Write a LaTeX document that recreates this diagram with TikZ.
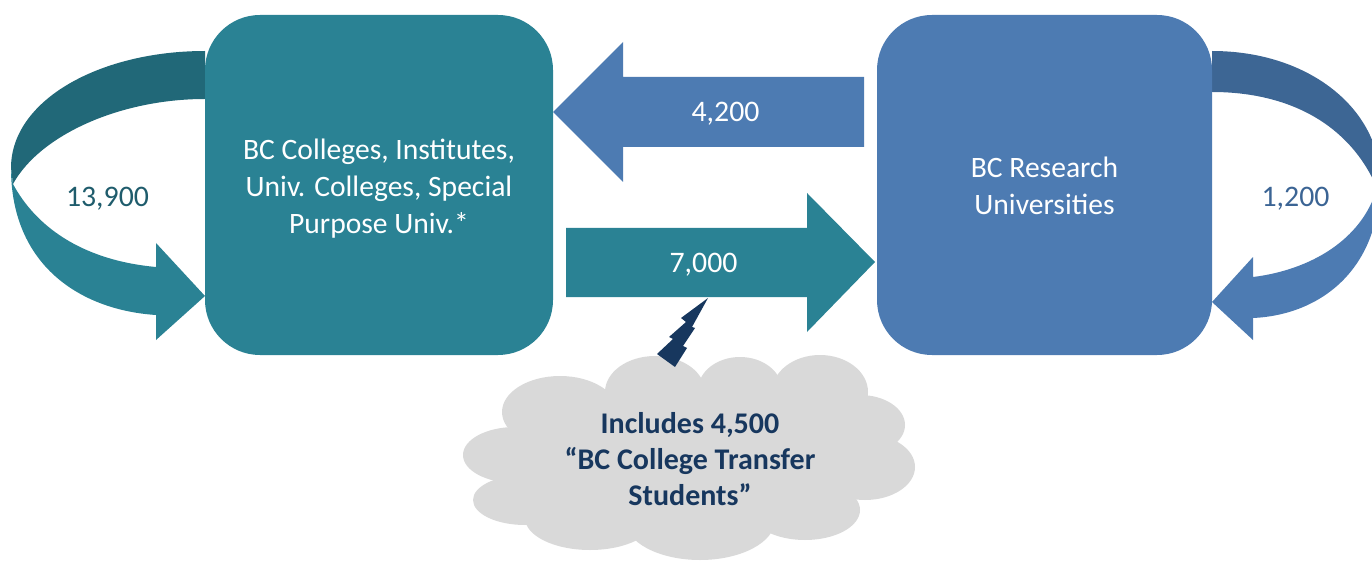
\documentclass[tikz,border=0pt]{standalone}
\usepackage{fontspec}
\setmainfont{Carlito}
\definecolor{cTeal}{HTML}{2A8294}
\definecolor{cTealDark}{HTML}{216878}
\definecolor{cTealText}{HTML}{1F5C6C}
\definecolor{cBlue}{HTML}{4D7BB2}
\definecolor{cBlueDark}{HTML}{3D6694}
\definecolor{cBlueText}{HTML}{3B6494}
\definecolor{cNavy}{HTML}{17375E}
\definecolor{cCloud}{HTML}{D9D9D9}
\tikzset{
  instbox/.style={draw=none, rounded corners=55pt, minimum width=#1, minimum height=340pt, inner sep=0pt},
  boxtext/.style={text=white, align=center, inner sep=0pt, font=\fontsize{29.6}{37}\selectfont},
  numtext/.style={inner sep=0pt, anchor=base, font=\fontsize{29.8}{35}\selectfont},
  cloudtext/.style={text=cNavy, align=center, inner sep=0pt, font=\fontsize{30}{36}\selectfont\bfseries},
  cloudpart/.style={fill=cCloud, draw=none}
}
\begin{document}
\begin{tikzpicture}[x=1pt,y=-1pt]
\useasboundingbox (0,0) rectangle (1372,561);
\clip (0,0) rectangle (1372,561);

% left self-loop arrow
\fill[cTealDark] (205,51) .. controls (100,51) and (11,100) .. (11,168)
  -- (13,184) .. controls (40,135) and (120,99) .. (205,99) -- cycle;
\fill[cTeal] (11,168) .. controls (11,265) and (80,310) .. (156,315)
  -- (156,340) -- (205,296) -- (156,243) -- (156,267)
  .. controls (80,260) and (35,225) .. (13,184) -- cycle;

% right self-loop arrow
\fill[cBlueDark] (1212,51) .. controls (1310,51) and (1380,110) .. (1380,180)
  -- (1377,188) .. controls (1350,125) and (1290,92) .. (1212,92) -- cycle;
\fill[cBlue] (1380,180) .. controls (1380,270) and (1320,315) .. (1253,318)
  -- (1253,340) -- (1212,302) -- (1253,257) -- (1253,277)
  .. controls (1310,270) and (1362,240) .. (1377,188) -- cycle;

% boxes
\node[instbox=348pt, fill=cTeal] (colleges) at (379,185) {};
\node[instbox=335pt, fill=cBlue] (research) at (1044.5,185) {};

% straight arrows
\fill[cBlue] (864,77) -- (623,77) -- (623,42) -- (553,112) -- (623,182) -- (623,147) -- (864,147) -- cycle;
\fill[cTeal] (566,228) -- (807,228) -- (807,193) -- (875,262) -- (807,332) -- (807,297) -- (566,297) -- cycle;

% box texts
\node[boxtext] (collegestext) at (379,189) {BC Colleges, Institutes,\\Univ. Colleges, Special\\Purpose Univ.*};
\node[boxtext] (researchtext) at (1044.5,186) {BC Research\\Universities};

% numbers
\node[numtext, text=white] (n4200) at (725.5,122) {4,200};
\node[numtext, text=white] (n7000) at (703.5,272) {7,000};
\node[numtext, text=cTealText] (n13900) at (107.5,207) {13,900};
\node[numtext, text=cBlueText] (n1200) at (1295.5,207) {1,200};

% cloud
\fill[cloudpart] (560,412) ellipse [x radius=58, y radius=36];
\fill[cloudpart] (655,392) ellipse [x radius=50, y radius=36];
\fill[cloudpart] (740,390) ellipse [x radius=42, y radius=33];
\fill[cloudpart] (820,392) ellipse [x radius=48, y radius=37];
\fill[cloudpart] (860,425) ellipse [x radius=45, y radius=30];
\fill[cloudpart] (865,467) ellipse [x radius=50, y radius=33];
\fill[cloudpart] (805,510) ellipse [x radius=55, y radius=30];
\fill[cloudpart] (700,520) ellipse [x radius=75, y radius=40];
\fill[cloudpart] (590,518) ellipse [x radius=65, y radius=32];
\fill[cloudpart] (525,500) ellipse [x radius=52, y radius=25];
\fill[cloudpart] (515,455) ellipse [x radius=52, y radius=28];
\fill[cloudpart] (690,460) ellipse [x radius=180, y radius=70];

% lightning bolt
\fill[cNavy] (708,298) -- (681,318) -- (686,322) -- (669,337) -- (673,339) -- (657,354)
  -- (675,367) -- (687,348) -- (683,346) -- (695,328) -- (692,327) -- cycle;

\node[cloudtext] (cloudtxt) at (690,459) {Includes 4,500\\“BC College Transfer\\Students”};
\end{tikzpicture}
\end{document}
